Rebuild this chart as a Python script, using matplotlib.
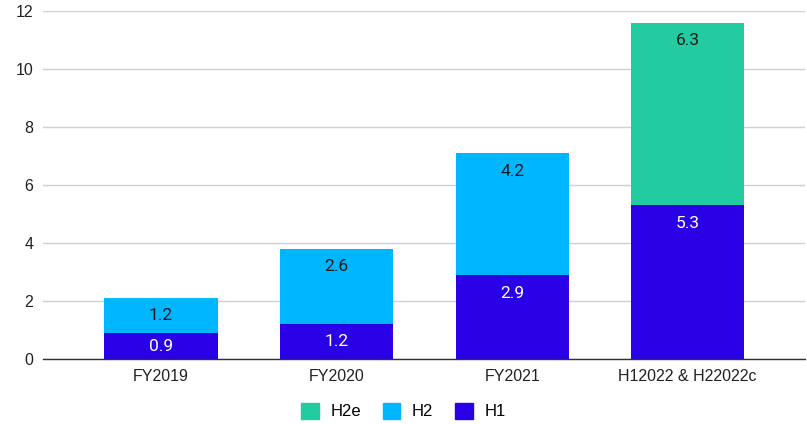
import numpy as np
import matplotlib.pyplot as plt
from matplotlib.patches import Patch

categories = ["FY2019", "FY2020", "FY2021", "H12022 & H22022c"]
h1 = [0.9, 1.2, 2.9, 5.3]
h2 = [1.2, 2.6, 4.2, 0]
h2e = [0, 0, 0, 6.3]

c_h1 = "#2a00e6"
c_h2 = "#00b6ff"
c_h2e = "#22cca0"

fig = plt.figure(figsize=(8.07, 4.24), dpi=100)
ax = fig.add_axes([0.0533, 0.153, 0.944, 0.821])

x = np.arange(len(categories))
w = 0.644

b1 = ax.bar(x, h1, w, color=c_h1, zorder=2)
b2 = ax.bar(x, h2, w, bottom=h1, color=c_h2, zorder=2)
b3 = ax.bar(x, h2e, w, bottom=np.add(h1, h2), color=c_h2e, zorder=2)

px_per_unit = 348 / 12


def label_segments(bars, vals, color):
    for rect, v in zip(bars, vals):
        if v <= 0:
            continue
        top = rect.get_y() + rect.get_height()
        seg_px = v * px_per_unit
        off = min(18, seg_px / 2)
        ax.annotate(f"{v:.1f}", (rect.get_x() + rect.get_width() / 2, top),
                    xytext=(0, -off * 0.72), textcoords="offset points",
                    ha="center", va="center", fontsize=12.5, color=color,
                    family="Roboto", zorder=3)


label_segments(b1, h1, "white")
label_segments(b2, h2, "#1a1a1a")
label_segments(b3, h2e, "#1a1a1a")

ax.set_ylim(0, 12)
ax.set_xlim(-0.672, 3.667)
ax.set_yticks(range(0, 13, 2))
ax.set_xticks(x)
ax.set_xticklabels(categories)
ax.grid(axis="y", color="#d0d0d0", linewidth=1, zorder=0)
ax.tick_params(length=0, labelsize=11.5, colors="#222222", pad=7)
for lab in ax.get_xticklabels() + ax.get_yticklabels():
    lab.set_family("Liberation Sans")
for s in ["top", "right", "left"]:
    ax.spines[s].set_visible(False)
ax.spines["bottom"].set_color("#333333")
ax.spines["bottom"].set_linewidth(1)
ax.spines["bottom"].set_zorder(4)

handles = [Patch(color=c_h2e, label="H2e"),
           Patch(color=c_h2, label="H2"),
           Patch(color=c_h1, label="H1")]
fig.legend(handles=handles, loc="center", bbox_to_anchor=(0.5, 0.03), ncol=3,
           frameon=False, handlelength=1.05, handleheight=1.05,
           columnspacing=1.3, handletextpad=0.7,
           prop={"family": "Liberation Sans", "size": 12})

fig.savefig("out.png", dpi=100, facecolor="white")
